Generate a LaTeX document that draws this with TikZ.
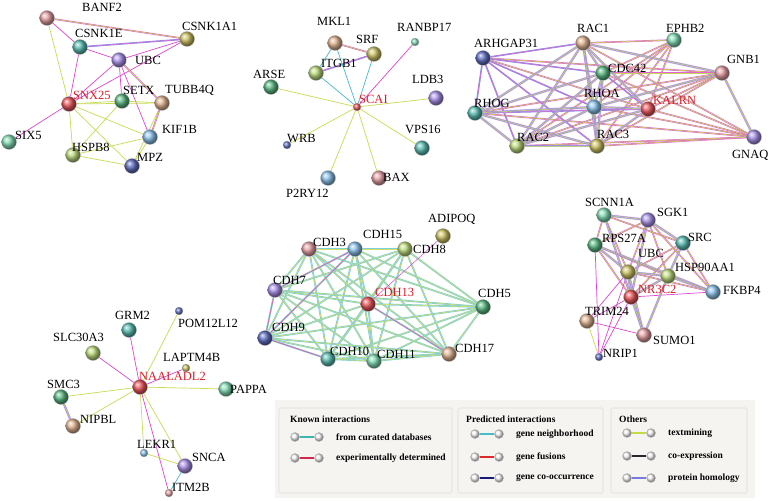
\documentclass[tikz,border=0pt]{standalone}
\usepackage{fontspec}
\setmainfont{Liberation Serif}
\usepackage{tikz}
\usetikzlibrary{backgrounds}
% evidence colours
\definecolor{tmc}{RGB}{200,218,80}
\definecolor{exc}{RGB}{220,70,210}
\definecolor{dbc}{RGB}{70,185,205}
\definecolor{hmc}{RGB}{95,105,215}
\definecolor{qred}{RGB}{215,30,40}
% ball colours
\definecolor{bteal}{RGB}{90,190,180}
\definecolor{bolive}{RGB}{205,195,100}
\definecolor{bpurp}{RGB}{170,145,235}
\definecolor{bred}{RGB}{235,85,90}
\definecolor{bgreen}{RGB}{90,185,130}
\definecolor{btan}{RGB}{225,180,145}
\definecolor{bmint}{RGB}{130,220,180}
\definecolor{blblue}{RGB}{140,195,235}
\definecolor{byg}{RGB}{190,220,125}
\definecolor{bdblue}{RGB}{95,110,195}
\definecolor{bpink}{RGB}{230,160,165}
% legend colours
\definecolor{legbg}{RGB}{245,244,241}
\definecolor{legln}{RGB}{222,221,217}
\definecolor{lgdb}{RGB}{60,180,175}
\definecolor{lgex}{RGB}{210,40,80}
\definecolor{lgnb}{RGB}{70,190,200}
\definecolor{lgfu}{RGB}{225,40,40}
\definecolor{lgco}{RGB}{25,25,120}
\definecolor{lgtm}{RGB}{195,220,70}
\definecolor{lgce}{RGB}{40,40,40}
\definecolor{lghm}{RGB}{120,120,225}
\tikzset{
  every node/.style={font=\fontsize{12.5}{14}\selectfont},
  prot/.style={circle,inner sep=0pt,minimum size=15pt,draw=black!30,line width=.3pt},
  sm/.style={prot,minimum size=8pt},
  lbl/.style={anchor=west,inner sep=0pt},
  qry/.style={lbl,text=qred},
  tm/.style={draw=tmc,line width=.7pt},
  ex/.style={draw=exc,line width=.7pt},
  db/.style={draw=dbc,line width=.7pt},
  extm/.style={draw=exc!85,line width=.5pt,double=tmc,double distance=.6pt},
  exhm/.style={draw=hmc!75,line width=.5pt,double=exc!80,double distance=.6pt},
  dbtm/.style={draw=dbc!70,line width=.6pt,double=tmc!85,double distance=.6pt},
  band/.style={draw opacity=.75,preaction={draw=exc!55,line width=2.6pt,draw opacity=.6},
               draw=hmc!80,line width=.6pt,double=tmc!90,double distance=.7pt},
  lball/.style={circle,inner sep=0pt,minimum size=9pt,ball color=black!4,draw=black!30,line width=.3pt},
  ltxt/.style={anchor=west,inner sep=0pt,font=\bfseries\fontsize{9.5}{11}\selectfont},
  legbox/.style={fill=legbg,draw=legln,line width=.6pt,rounded corners=1.5pt},
}
\begin{document}
\begin{tikzpicture}[x=1pt,y=-1pt]
  \useasboundingbox (0,0) rectangle (778,500);

  % --- SNX25 network
  \node[prot,ball color=bpink]  (BANF2)   at (47,18)  {};
  \node[prot,ball color=bolive] (CSNK1A1) at (187,39) {};
  \node[prot,ball color=bteal]  (CSNK1E)  at (80,47)  {};
  \node[prot,ball color=bpurp]  (UBCa)    at (119,60) {};
  \node[prot,ball color=bred]   (SNX25)   at (69,104) {};
  \node[prot,ball color=bgreen] (SETX)    at (122,101){};
  \node[prot,ball color=btan]   (TUBB4Q)  at (162,103){};
  \node[prot,ball color=bmint]  (SIX5)    at (9,142)  {};
  \node[prot,ball color=blblue] (KIF1B)   at (150,137){};
  \node[prot,ball color=byg]    (HSPB8)   at (73,155) {};
  \node[prot,ball color=bdblue] (MPZ)     at (132,166){};
  \node[lbl] (BANF2-t)   at (82,7)   {BANF2};
  \node[lbl] (CSNK1A1-t) at (182,26) {CSNK1A1};
  \node[lbl] (CSNK1E-t)  at (75,33)  {CSNK1E};
  \node[lbl] (UBCa-t)    at (135,60) {UBC};
  \node[qry] (SNX25-t)   at (73,95)  {SNX25};
  \node[lbl] (SETX-t)    at (123,90) {SETX};
  \node[lbl] (TUBB4Q-t)  at (165,90) {TUBB4Q};
  \node[lbl] (SIX5-t)    at (15,135) {SIX5};
  \node[lbl] (KIF1B-t)   at (162,129){KIF1B};
  \node[lbl] (HSPB8-t)   at (72,147) {HSPB8};
  \node[lbl] (MPZ-t)     at (137,157){MPZ};

  % --- SCAI network
  \node[prot,ball color=btan]   (MKL1)    at (335,43) {};
  \node[prot,ball color=bolive] (SRF)     at (374,54) {};
  \node[sm,ball color=bmint]    (RANBP17) at (415,42) {};
  \node[prot,ball color=byg]    (ITGB1)   at (316,73) {};
  \node[prot,ball color=bgreen] (ARSE)    at (271,87) {};
  \node[prot,ball color=bpurp]  (LDB3)    at (436,98) {};
  \node[sm,ball color=bred]     (SCAI)    at (357,107){};
  \node[sm,ball color=bdblue]   (WRB)     at (287,145){};
  \node[prot,ball color=bteal]  (VPS16)   at (422,148){};
  \node[prot,ball color=blblue] (P2RY12)  at (328,178){};
  \node[prot,ball color=bpink]  (BAX)     at (379,178){};
  \node[lbl] (MKL1-t)    at (317,21) {MKL1};
  \node[lbl] (SRF-t)     at (356,39) {SRF};
  \node[lbl] (RANBP17-t) at (397,27) {RANBP17};
  \node[lbl] (ITGB1-t)   at (321,63) {ITGB1};
  \node[lbl] (ARSE-t)    at (253,74) {ARSE};
  \node[lbl] (LDB3-t)    at (412,79) {LDB3};
  \node[qry] (SCAI-t)    at (359,99) {SCAI};
  \node[lbl] (WRB-t)     at (287,139){WRB};
  \node[lbl] (VPS16-t)   at (405,129){VPS16};
  \node[lbl] (P2RY12-t)  at (286,193){P2RY12};
  \node[lbl] (BAX-t)     at (383,177){BAX};

  % --- KALRN network
  \node[prot,ball color=btan]   (RAC1)     at (583,43) {};
  \node[prot,ball color=bmint]  (EPHB2)    at (674,40) {};
  \node[prot,ball color=bdblue] (ARHGAP31) at (483,58) {};
  \node[prot,ball color=bpink]  (GNB1)     at (722,73) {};
  \node[prot,ball color=bgreen] (CDC42)    at (603,73) {};
  \node[prot,ball color=blblue] (RHOA)     at (594,107){};
  \node[prot,ball color=bred]   (KALRN)    at (648,109){};
  \node[prot,ball color=bteal]  (RHOG)     at (475,113){};
  \node[prot,ball color=byg]    (RAC2)     at (517,146){};
  \node[prot,ball color=bolive] (RAC3)     at (597,146){};
  \node[prot,ball color=bpurp]  (GNAQ)     at (754,137){};
  \node[lbl] (RAC1-t)     at (577,28) {RAC1};
  \node[lbl] (EPHB2-t)    at (666,28) {EPHB2};
  \node[lbl] (ARHGAP31-t) at (474,43) {ARHGAP31};
  \node[lbl] (GNB1-t)     at (727,59) {GNB1};
  \node[lbl] (CDC42-t)    at (608,68) {CDC42};
  \node[lbl] (RHOA-t)     at (584,93) {RHOA};
  \node[qry] (KALRN-t)    at (653,100){KALRN};
  \node[lbl] (RHOG-t)     at (474,103){RHOG};
  \node[lbl] (RAC2-t)     at (517,137){RAC2};
  \node[lbl] (RAC3-t)     at (597,134){RAC3};
  \node[lbl] (GNAQ-t)     at (732,155){GNAQ};

  % --- NAALADL2 network
  \node[prot,ball color=bteal]  (GRM2)     at (129,330){};
  \node[sm,ball color=bdblue]   (POM12L12) at (179,311){};
  \node[prot,ball color=byg]    (SLC30A3)  at (93,353) {};
  \node[sm,ball color=bolive]   (LAPTM4B)  at (186,368){};
  \node[prot,ball color=bred]   (NAALADL2) at (140,387){};
  \node[prot,ball color=bmint]  (PAPPA)    at (226,389){};
  \node[prot,ball color=bgreen] (SMC3)     at (61,397) {};
  \node[prot,ball color=btan]   (NIPBL)    at (73,426) {};
  \node[sm,ball color=blblue]   (LEKR1)    at (144,453){};
  \node[prot,ball color=bpurp]  (SNCA)     at (185,466){};
  \node[sm,ball color=bpink]    (ITM2B)    at (169,493){};
  \node[lbl] (GRM2-t)     at (115,315){GRM2};
  \node[lbl] (POM12L12-t) at (178,323){POM12L12};
  \node[lbl] (SLC30A3-t)  at (53,337) {SLC30A3};
  \node[lbl] (LAPTM4B-t)  at (163,357){LAPTM4B};
  \node[qry] (NAALADL2-t) at (139,376){NAALADL2};
  \node[lbl] (PAPPA-t)    at (230,389){PAPPA};
  \node[lbl] (SMC3-t)     at (47,384) {SMC3};
  \node[lbl] (NIPBL-t)    at (80,419) {NIPBL};
  \node[lbl] (LEKR1-t)    at (137,444){LEKR1};
  \node[lbl] (SNCA-t)     at (192,457){SNCA};
  \node[lbl] (ITM2B-t)    at (172,487){ITM2B};

  % --- CDH13 network
  \node[prot,ball color=bpink]  (CDH3)   at (309,249){};
  \node[prot,ball color=blblue] (CDH15)  at (355,249){};
  \node[prot,ball color=bolive] (ADIPOQ) at (443,236){};
  \node[prot,ball color=byg]    (CDH8)   at (405,249){};
  \node[prot,ball color=bpurp]  (CDH7)   at (275,290){};
  \node[prot,ball color=bred]   (CDH13)  at (368,304){};
  \node[prot,ball color=bgreen] (CDH5)   at (483,307){};
  \node[prot,ball color=bdblue] (CDH9)   at (265,338){};
  \node[prot,ball color=bteal]  (CDH10)  at (328,359){};
  \node[prot,ball color=bmint]  (CDH11)  at (374,361){};
  \node[prot,ball color=btan]   (CDH17)  at (449,354){};
  \node[lbl] (CDH3-t)   at (313,242){CDH3};
  \node[lbl] (CDH15-t)  at (363,234){CDH15};
  \node[lbl] (ADIPOQ-t) at (428,219){ADIPOQ};
  \node[lbl] (CDH8-t)   at (413,249){CDH8};
  \node[lbl] (CDH7-t)   at (273,280){CDH7};
  \node[qry] (CDH13-t)  at (375,292){CDH13};
  \node[lbl] (CDH5-t)   at (478,293){CDH5};
  \node[lbl] (CDH9-t)   at (272,327){CDH9};
  \node[lbl] (CDH10-t)  at (330,351){CDH10};
  \node[lbl] (CDH11-t)  at (377,354){CDH11};
  \node[lbl] (CDH17-t)  at (455,348){CDH17};

  % --- NR3C2 network
  \node[prot,ball color=bmint]  (SCNN1A)   at (604,215){};
  \node[prot,ball color=bpurp]  (SGK1)     at (648,220){};
  \node[prot,ball color=bteal]  (SRC)      at (683,243){};
  \node[prot,ball color=bgreen] (RPS27A)   at (595,245){};
  \node[prot,ball color=bolive] (UBCb)     at (628,272){};
  \node[prot,ball color=byg]    (HSP90AA1) at (668,276){};
  \node[prot,ball color=blblue] (FKBP4)    at (713,292){};
  \node[prot,ball color=bred]   (NR3C2)    at (631,297){};
  \node[prot,ball color=btan]   (TRIM24)   at (587,321){};
  \node[prot,ball color=bpink]  (SUMO1)    at (644,335){};
  \node[sm,ball color=bdblue]   (NRIP1)    at (599,357){};
  \node[lbl] (SCNN1A-t)   at (585,202){SCNN1A};
  \node[lbl] (SGK1-t)     at (657,212){SGK1};
  \node[lbl] (SRC-t)      at (688,237){SRC};
  \node[lbl] (RPS27A-t)   at (602,238){RPS27A};
  \node[lbl] (UBCb-t)     at (638,253){UBC};
  \node[lbl] (HSP90AA1-t) at (675,267){HSP90AA1};
  \node[lbl] (FKBP4-t)    at (723,290){FKBP4};
  \node[qry] (NR3C2-t)    at (638,289){NR3C2};
  \node[lbl] (TRIM24-t)   at (585,311){TRIM24};
  \node[lbl] (SUMO1-t)    at (653,340){SUMO1};
  \node[lbl] (NRIP1-t)    at (603,353){NRIP1};

  % edges go under the balls
  \begin{scope}[on background layer]
    \foreach \a/\b in {BANF2/CSNK1E,CSNK1E/UBCa,CSNK1E/SNX25,UBCa/CSNK1A1,SNX25/CSNK1A1,
                       SNX25/UBCa,UBCa/SETX,UBCa/KIF1B,SNX25/SIX5}
      \draw[ex] (\a) -- (\b);
    \foreach \a/\b in {BANF2/SNX25,SNX25/SETX,SNX25/TUBB4Q,SNX25/HSPB8,SNX25/KIF1B,SNX25/MPZ,
                       SETX/TUBB4Q,SETX/HSPB8,TUBB4Q/MPZ,KIF1B/HSPB8,KIF1B/MPZ,HSPB8/MPZ}
      \draw[tm] (\a) -- (\b);
    \foreach \a/\b in {BANF2/CSNK1A1,UBCa/TUBB4Q,TUBB4Q/KIF1B}
      \draw[extm] (\a) -- (\b);
    \draw[exhm] (CSNK1E) -- (CSNK1A1);

    \draw[extm] (MKL1) -- (SRF);
    \draw[exhm] (ITGB1) -- (SRF);
    \foreach \a/\b in {MKL1/ITGB1,MKL1/SCAI,ITGB1/SCAI,SRF/SCAI}
      \draw[db] (\a) -- (\b);
    \draw[ex] (RANBP17) -- (SCAI);
    \foreach \b in {ARSE,LDB3,WRB,VPS16,P2RY12,BAX}
      \draw[tm] (SCAI) -- (\b);

    \foreach \a/\b in {ARHGAP31/GNB1,ARHGAP31/KALRN,KALRN/GNB1,KALRN/GNAQ,EPHB2/RAC1,EPHB2/KALRN,
                       EPHB2/RHOA,EPHB2/RAC2,EPHB2/RAC3,EPHB2/CDC42,CDC42/GNB1,RAC2/GNB1,RAC3/GNB1,
                       RHOG/GNB1,GNAQ/RAC1,GNAQ/RHOA,GNAQ/RAC3,GNAQ/RAC2,GNAQ/CDC42,GNAQ/RHOG}
      \draw[extm] (\a) -- (\b);
    \foreach \a/\b in {ARHGAP31/RAC1,ARHGAP31/RHOA,ARHGAP31/RAC2,ARHGAP31/RHOG,ARHGAP31/CDC42,
                       ARHGAP31/RAC3,CDC42/KALRN,RHOG/KALRN}
      \draw[exhm] (\a) -- (\b);
    \foreach \a/\b in {RAC1/CDC42,RAC1/RHOA,RAC1/RAC2,RAC1/RAC3,RAC1/RHOG,CDC42/RHOA,CDC42/RAC2,
                       CDC42/RAC3,CDC42/RHOG,RHOA/RAC2,RHOA/RAC3,RHOA/RHOG,RAC2/RAC3,RAC2/RHOG,
                       RAC3/RHOG,RHOA/KALRN,RAC1/KALRN,RAC2/KALRN,RAC3/KALRN,GNB1/GNAQ,RAC1/GNB1,RHOA/GNB1}
      \draw[band] (\a) -- (\b);

    \foreach \b in {GRM2,SLC30A3,LAPTM4B,ITM2B}
      \draw[ex] (NAALADL2) -- (\b);
    \foreach \b in {POM12L12,PAPPA,SMC3,NIPBL,LEKR1,SNCA}
      \draw[tm] (NAALADL2) -- (\b);
    \draw[tm] (LEKR1) -- (SNCA);
    \draw[db] (SNCA) -- (ITM2B);
    \draw[band] (SMC3) -- (NIPBL);

    \foreach \a [count=\i] in {CDH3,CDH15,CDH8,CDH7,CDH13,CDH5,CDH9,CDH10,CDH11,CDH17}
      \foreach \b [count=\j] in {CDH3,CDH15,CDH8,CDH7,CDH13,CDH5,CDH9,CDH10,CDH11,CDH17}
        {\ifnum\j>\i \draw[dbtm] (\a) -- (\b); \fi}
    \foreach \a/\b in {ADIPOQ/CDH13,CDH13/CDH17,CDH7/CDH9,CDH9/CDH10,CDH7/CDH15,CDH9/CDH15}
      \draw[ex,line width=.5pt] (\a) -- (\b);

    \foreach \a/\b in {SCNN1A/RPS27A,SCNN1A/SRC,SCNN1A/UBCb,SGK1/UBCb,SGK1/HSP90AA1,SGK1/FKBP4,
                       SRC/UBCb,SRC/NR3C2,SRC/FKBP4,RPS27A/HSP90AA1,RPS27A/NR3C2,UBCb/FKBP4,SGK1/RPS27A}
      \draw[extm] (\a) -- (\b);
    \foreach \a/\b in {UBCb/TRIM24,UBCb/NRIP1,NR3C2/FKBP4,NR3C2/TRIM24,NR3C2/NRIP1,TRIM24/SUMO1,RPS27A/NRIP1}
      \draw[ex] (\a) -- (\b);
    \draw[tm] (TRIM24) -- (NRIP1);
    \foreach \a/\b in {SCNN1A/SGK1,SGK1/SRC,SRC/HSP90AA1,RPS27A/UBCb,RPS27A/FKBP4,UBCb/HSP90AA1,
                       UBCb/NR3C2,UBCb/SUMO1,HSP90AA1/FKBP4,HSP90AA1/NR3C2,HSP90AA1/SUMO1,
                       NR3C2/SUMO1,SCNN1A/NR3C2,SGK1/NR3C2}
      \draw[band] (\a) -- (\b);
  \end{scope}

  % --- legend
  \fill[legbg] (275,400) rectangle (755,498);
  \draw[legbox] (279,408) rectangle (452,493);
  \draw[legbox] (458,408) rectangle (603,493);
  \draw[legbox] (611,408) rectangle (747,493);
  \node[ltxt] (known) at (290,419) {Known interactions};
  \node[ltxt] (pred)  at (466,419) {Predicted interactions};
  \node[ltxt] (oth)   at (619,419) {Others};
  \foreach \n/\x/\y/\c/\t in {k1/295/437/lgdb/from curated databases,
                              k2/295/458/lgex/experimentally determined,
                              p1/475/434/lgnb/gene neighborhood,
                              p2/475/457/lgfu/gene fusions,
                              p3/475/478/lgco/gene co-occurrence,
                              o1/627/433/lgtm/textmining,
                              o2/627/456/lgce/co-expression,
                              o3/627/478/lghm/protein homology}
  {
    \node[lball] (\n l) at (\x,\y) {};
    \node[lball] (\n r) at (\x+24,\y) {};
    \draw[draw=\c,line width=1.6pt] (\n l) -- (\n r);
    \node[ltxt] (\n t) at (\x+41,\y) {\t};
  }
\end{tikzpicture}
\end{document}
